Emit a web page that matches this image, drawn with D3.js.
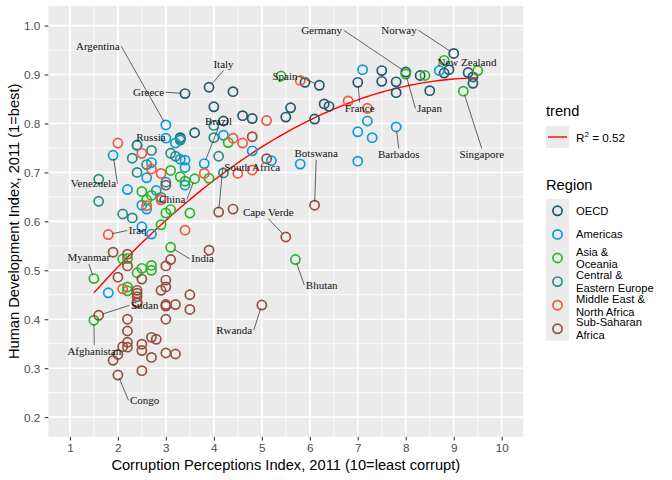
<!DOCTYPE html>
<html><head><meta charset="utf-8">
<script src="https://cdn.jsdelivr.net/npm/d3@7"></script>
<style>body{margin:0;background:#fff}svg{display:block}</style>
</head><body>
<svg id="chart" width="672" height="480"></svg>
<script>
// ---------------- data ----------------
const countries = [
 "Austria","Belgium","Britain","Bulgaria","Cyprus","Czech Republic","Denmark","Estonia","Finland","France","Germany","Greece","Hungary","Iceland","Ireland","Italy","Latvia","Lithuania","Luxembourg","Malta","Netherlands","Norway","Poland","Portugal","Romania","Slovakia","Slovenia","Spain","Sweden","Switzerland",
 "Argentina","Bahamas","Barbados","Bolivia","Brazil","Canada","Chile","Colombia","Costa Rica","Cuba","Dominica","Dominican Republic","Ecuador","El Salvador","Guatemala","Guyana","Haiti","Honduras","Jamaica","Mexico","Nicaragua","Panama","Paraguay","Peru","St Lucia","St Vincent and the Grenadines","Suriname","Trinidad and Tobago","United States","Uruguay","Venezuela",
 "Afghanistan","Australia","Bangladesh","Bhutan","Cambodia","China","Hong Kong","India","Indonesia","Japan","Kiribati","Laos","Malaysia","Maldives","Mongolia","Myanmar","Nepal","New Zealand","Pakistan","Papua New Guinea","Philippines","Samoa","Singapore","Solomon Islands","South Korea","Sri Lanka","Thailand","Timor-Leste","Tonga","Vanuatu","Vietnam",
 "Albania","Armenia","Azerbaijan","Belarus","Bosnia and Herzegovina","Croatia","Georgia","Kazakhstan","Kyrgyzstan","Moldova","Montenegro","Russia","Serbia","Tajikistan","Turkey","Turkmenistan","Ukraine","Uzbekistan",
 "Algeria","Bahrain","Egypt","Iran","Iraq","Israel","Jordan","Kuwait","Lebanon","Libya","Morocco","Oman","Qatar","Saudi Arabia","Syria","Tunisia","United Arab Emirates","Yemen",
 "Angola","Benin","Botswana","Burkina Faso","Burundi","Cameroon","Cape Verde","Central African Republic","Chad","Comoros","Congo","Congo Republic","Côte d'Ivoire","Djibouti","Equatorial Guinea","Eritrea","Ethiopia","Gabon","Gambia","Ghana","Guinea","Guinea-Bissau","Kenya","Lesotho","Liberia","Madagascar","Malawi","Mali","Mauritania","Mauritius","Mozambique","Namibia","Niger","Nigeria","Rwanda","Sao Tome and Principe","Senegal","Seychelles","Sierra Leone","South Africa","Sudan","Swaziland","Tanzania","Togo","Uganda","Zambia","Zimbabwe"
];
const cpi = [
 7.8,7.5,7.8,3.3,6.3,4.4,9.4,6.4,9.4,7.0,8.0,3.4,4.6,8.3,7.5,3.9,4.2,4.8,8.5,5.6,8.9,9.0,5.5,6.1,3.6,4.0,5.9,6.2,9.3,8.8,
 3.0,7.3,7.8,2.8,3.8,8.7,7.2,3.4,4.8,4.2,5.2,2.6,2.7,3.4,2.7,2.5,1.8,2.6,3.3,3.0,2.5,3.3,2.2,3.4,7.0,5.8,3.0,3.2,7.1,7.0,1.9,
 1.5,8.8,2.7,5.7,2.1,3.6,8.4,3.1,3.0,8.0,3.1,2.2,4.3,2.5,2.7,1.5,2.2,9.5,2.5,2.2,2.6,3.9,9.2,2.7,5.4,3.3,3.4,2.4,3.1,3.5,2.9,
 3.1,2.6,2.4,2.4,3.2,4.0,4.1,2.7,2.1,2.9,4.0,2.4,3.3,2.3,4.2,1.6,2.3,1.6,
 2.9,5.1,2.9,2.7,1.8,5.8,4.5,4.6,2.5,2.0,3.4,4.8,7.2,4.4,2.6,3.8,6.8,2.1,
 2.0,3.0,6.1,3.0,1.9,2.5,5.5,2.2,2.0,2.4,2.0,2.2,2.2,3.0,1.9,2.5,2.7,3.0,3.5,3.9,2.1,2.2,2.2,3.5,3.2,3.0,3.0,2.8,2.4,5.1,2.7,4.4,2.5,2.4,5.0,3.0,2.9,4.8,2.5,4.1,1.6,3.1,3.0,2.4,2.4,3.2,2.2
];
const hdi = [
 0.885,0.886,0.863,0.771,0.840,0.865,0.895,0.835,0.882,0.884,0.905,0.861,0.816,0.898,0.908,0.874,0.805,0.810,0.867,0.832,0.910,0.943,0.813,0.809,0.781,0.834,0.884,0.878,0.904,0.903,
 0.797,0.771,0.793,0.663,0.718,0.908,0.805,0.710,0.744,0.776,0.724,0.689,0.720,0.674,0.574,0.633,0.454,0.625,0.727,0.770,0.589,0.768,0.665,0.725,0.723,0.717,0.680,0.760,0.910,0.783,0.735,
 0.398,0.929,0.500,0.522,0.523,0.687,0.898,0.547,0.617,0.901,0.624,0.524,0.761,0.661,0.653,0.483,0.458,0.908,0.504,0.466,0.644,0.688,0.866,0.510,0.897,0.691,0.682,0.495,0.704,0.617,0.593,
 0.739,0.716,0.700,0.756,0.733,0.796,0.733,0.745,0.615,0.649,0.771,0.755,0.766,0.607,0.699,0.686,0.729,0.641,
 0.698,0.806,0.644,0.707,0.573,0.888,0.698,0.760,0.739,0.760,0.582,0.705,0.831,0.770,0.632,0.698,0.846,0.462,
 0.486,0.427,0.633,0.331,0.316,0.482,0.568,0.343,0.328,0.433,0.286,0.533,0.400,0.430,0.537,0.349,0.363,0.674,0.420,0.541,0.344,0.353,0.509,0.450,0.329,0.480,0.400,0.359,0.453,0.728,0.322,0.625,0.295,0.459,0.429,0.509,0.459,0.773,0.336,0.619,0.408,0.522,0.466,0.435,0.446,0.430,0.376
];
// region of each block of the arrays above (block sizes)
const regionNames = ["OECD","Americas","Asia & Oceania","Central & Eastern Europe","Middle East & North Africa","Sub-Saharan Africa"];
const regionLegendLines = [["OECD"],["Americas"],["Asia &","Oceania"],["Central &","Eastern Europe"],["Middle East &","North Africa"],["Sub-Saharan","Africa"]];
const regionCounts = [30,31,31,18,18,47];
const xTicks = [1,2,3,4,5,6,7,8,9,10];
const yTicks = [0.2,0.3,0.4,0.5,0.6,0.7,0.8,0.9,1.0];
const trendLabel = "0.52";
const labelled = ["Argentina","Greece","Russia","Brazil","Italy","Germany","Spain","France","Norway","New Zealand","Japan","Singapore","Barbados","Botswana","South Africa","China","Venezuela","Iraq","India","Myanmar","Sudan","Afghanistan","Congo","Rwanda","Cape Verde","Bhutan"];

// ---------------- styles / layout ----------------
const regionColors = ["#24576D","#099DD7","#2DB52A","#248E84","#F2583F","#96503F"];
const labelNudge = { // text centre offset from its point, px (repelled placement)
 "Argentina":[-68,-78.7],"Greece":[-36.5,-1.4],"Russia":[13.9,-7.7],"Brazil":[14.3,-42.4],
 "Italy":[14.5,-22.8],"Germany":[-84.1,-41.9],"Spain":[-34.4,-8.8],"France":[1.9,26.1],
 "Norway":[-54.7,-23.3],"New Zealand":[-10.7,-8.4],"Japan":[23.7,34.4],"Singapore":[18.4,63.3],
 "Barbados":[2.6,27.6],"Botswana":[1.6,-51.4],"South Africa":[33.6,-44.9],"Cape Verde":[-17.5,-24.3],
 "Bhutan":[26.3,25.6],"Rwanda":[-27.6,25.1],"China":[-22.4,20.7],"Venezuela":[-19.6,28.5],
 "Iraq":[29.4,-4.1],"India":[31.9,11.5],"Myanmar":[-5.1,-20.7],"Sudan":[46,-10],
 "Afghanistan":[0.4,31],"Congo":[26.8,25.2]
};
const W=672,H=480;
const panel = {x0:48.3,x1:523.3,y0:6.0,y1:436.7};
const sans = "'Liberation Sans', Arial, Helvetica, sans-serif";
const serif = "'Liberation Serif', 'Times New Roman', serif";

const xlim=[1,10], ylim=[0.2,1.0];
const xe=(xlim[1]-xlim[0])*0.05, ye=(ylim[1]-ylim[0])*0.05;
const x = d3.scaleLinear().domain([xlim[0]-xe,xlim[1]+xe]).range([panel.x0,panel.x1]);
const y = d3.scaleLinear().domain([ylim[0]-ye,ylim[1]+ye]).range([panel.y1,panel.y0]);

const regionOf = [];
regionCounts.forEach((c,i)=>{for(let k=0;k<c;k++) regionOf.push(i);});
const rows = countries.map((c,i)=>({country:c,cpi:cpi[i],hdi:hdi[i],region:regionOf[i]}));

const svg = d3.select("#chart");
svg.append("rect").attr("width",W).attr("height",H).attr("fill","#fff");
svg.append("rect").attr("x",panel.x0).attr("y",panel.y0)
  .attr("width",panel.x1-panel.x0).attr("height",panel.y1-panel.y0).attr("fill","#EBEBEB");

const grid = svg.append("g");
const xMinor = d3.range(xlim[0]+0.5, xlim[1], 1);
const yMinor = d3.range(ylim[0]+0.05, ylim[1], 0.1);
grid.selectAll(".xm").data(xMinor).join("line").attr("x1",d=>x(d)).attr("x2",d=>x(d))
  .attr("y1",panel.y0).attr("y2",panel.y1).attr("stroke","#fff").attr("stroke-width",0.8);
grid.selectAll(".ym").data(yMinor).join("line").attr("y1",d=>y(d)).attr("y2",d=>y(d))
  .attr("x1",panel.x0).attr("x2",panel.x1).attr("stroke","#fff").attr("stroke-width",0.8);
grid.selectAll(".xM").data(xTicks).join("line").attr("x1",d=>x(d)).attr("x2",d=>x(d))
  .attr("y1",panel.y0).attr("y2",panel.y1).attr("stroke","#fff").attr("stroke-width",1.6);
grid.selectAll(".yM").data(yTicks).join("line").attr("y1",d=>y(d)).attr("y2",d=>y(d))
  .attr("x1",panel.x0).attr("x2",panel.x1).attr("stroke","#fff").attr("stroke-width",1.6);

const xAxis = svg.append("g").attr("transform",`translate(0,${panel.y1})`)
  .call(d3.axisBottom(x).tickValues(xTicks).tickFormat(d3.format("d")).tickSize(3.7).tickPadding(2.9));
const yAxis = svg.append("g").attr("transform",`translate(${panel.x0},0)`)
  .call(d3.axisLeft(y).tickValues(yTicks).tickFormat(d3.format(".1f")).tickSize(3.7).tickPadding(4.3));
[xAxis,yAxis].forEach(a=>{
  a.select(".domain").remove();
  a.selectAll(".tick line").attr("stroke","#333333").attr("stroke-width",1.05);
  a.selectAll(".tick text").attr("fill","#4D4D4D").style("font-family",sans).style("font-size","11.73px");
});
yAxis.selectAll(".tick text").attr("dy","0.36em");

svg.append("text").attr("x",(panel.x0+panel.x1)/2).attr("y",469.5).attr("text-anchor","middle")
  .style("font-family",sans).style("font-size","14.67px").attr("fill","#000")
  .text("Corruption Perceptions Index, 2011 (10=least corrupt)");
svg.append("text").attr("transform",`translate(19.3,${(panel.y0+panel.y1)/2}) rotate(-90)`)
  .attr("text-anchor","middle").style("font-family",sans).style("font-size","14.67px").attr("fill","#000")
  .text("Human Development Index, 2011 (1=best)");

// trend: least-squares fit hdi ~ cpi + cpi^2
function solve(A,b){
  const n=b.length; const M=A.map((r,i)=>r.concat([b[i]]));
  for(let c=0;c<n;c++){
    let p=c; for(let r=c+1;r<n;r++) if(Math.abs(M[r][c])>Math.abs(M[p][c])) p=r;
    [M[c],M[p]]=[M[p],M[c]];
    for(let r=0;r<n;r++){ if(r===c) continue; const f=M[r][c]/M[c][c]; for(let k=c;k<=n;k++) M[r][k]-=f*M[c][k]; }
  }
  return M.map((r,i)=>r[n]/r[i]);
}
const basis = c=>[1,c,c*c];
const A=[[0,0,0],[0,0,0],[0,0,0]], bv=[0,0,0];
rows.forEach(r=>{const v=basis(r.cpi);
  for(let i=0;i<3;i++){bv[i]+=v[i]*r.hdi; for(let j=0;j<3;j++) A[i][j]+=v[i]*v[j];}});
const beta = solve(A,bv);
const trend = c=>d3.sum(basis(c).map((v,i)=>v*beta[i]));
const [cmin,cmax]=d3.extent(rows,r=>r.cpi);
const xs = d3.range(80).map(i=>cmin+(cmax-cmin)*i/79);
svg.append("path").datum(xs)
  .attr("d",d3.line().x(d=>x(d)).y(d=>y(trend(d))))
  .attr("fill","none").attr("stroke","#FF0000").attr("stroke-width",1.4);

// points
const R=4.6;
svg.append("g").selectAll("circle").data(rows).join("circle")
  .attr("cx",d=>x(d.cpi)).attr("cy",d=>y(d.hdi)).attr("r",R)
  .attr("fill","none").attr("stroke",d=>regionColors[d.region]).attr("stroke-width",1.7);

// labels with leader segments
const lg = svg.append("g");
labelled.forEach(name=>{
  const d = rows.find(r=>r.country===name);
  const px=x(d.cpi), py=y(d.hdi);
  const [dx,dy]=labelNudge[name];
  const cx=px+dx, cy=py+dy;
  const t = lg.append("text").attr("x",cx).attr("y",cy).attr("dy","0.32em").attr("text-anchor","middle")
    .style("font-family",serif).style("font-size","11px").attr("fill","#111").text(name);
  const w = t.node().getComputedTextLength();
  const hw=w/2+1.5, hh=6;
  const cands=[[cx-hw,cy],[cx+hw,cy],[cx,cy-hh],[cx,cy+hh]];
  let best=cands[0],bd=1e9;
  cands.forEach(c=>{const dd=Math.hypot(c[0]-px,c[1]-py); if(dd<bd){bd=dd;best=c;}});
  if(bd>12){
    const ux=(px-best[0])/bd, uy=(py-best[1])/bd;
    lg.insert("line","text").attr("x1",best[0]).attr("y1",best[1])
      .attr("x2",px-ux*3.8).attr("y2",py-uy*3.8)
      .attr("stroke","#333").attr("stroke-width",0.75);
  }
});

// legend
const lx=546, kw=23, tx=576;
svg.append("text").attr("x",lx).attr("y",115.7).style("font-family",sans).style("font-size","14.67px").text("trend");
svg.append("rect").attr("x",lx).attr("y",126).attr("width",kw).attr("height",22).attr("fill","#EBEBEB");
svg.append("line").attr("x1",lx+2).attr("x2",lx+kw-2).attr("y1",137).attr("y2",137).attr("stroke","#FF0000").attr("stroke-width",1.4);
const rt = svg.append("text").attr("x",tx).attr("y",141.5).style("font-family",sans).style("font-size","11.73px");
rt.append("tspan").text("R");
rt.append("tspan").attr("dy",-4.5).style("font-size","8px").text("2");
rt.append("tspan").attr("dy",4.5).text(" = "+trendLabel);

svg.append("text").attr("x",lx).attr("y",189.5).style("font-family",sans).style("font-size","14.67px").text("Region");
const keyTop=199, keyStep=23.6;
svg.append("rect").attr("x",lx).attr("y",keyTop).attr("width",kw).attr("height",keyStep*6).attr("fill","#EBEBEB");
const leg = svg.append("g");
regionNames.forEach((n,i)=>{
  const cy = keyTop + keyStep*(i+0.5);
  leg.append("circle").attr("cx",lx+kw/2).attr("cy",cy).attr("r",R).attr("fill","none")
    .attr("stroke",regionColors[i]).attr("stroke-width",1.7);
  const lines = regionLegendLines[i];
  lines.forEach((s,j)=>{
    leg.append("text").attr("x",tx).attr("y",cy + (j-(lines.length-1)/2)*12.9).attr("dy","0.36em")
      .style("font-family",sans).style("font-size","11.2px").text(s);
  });
});
</script>
</body></html>
